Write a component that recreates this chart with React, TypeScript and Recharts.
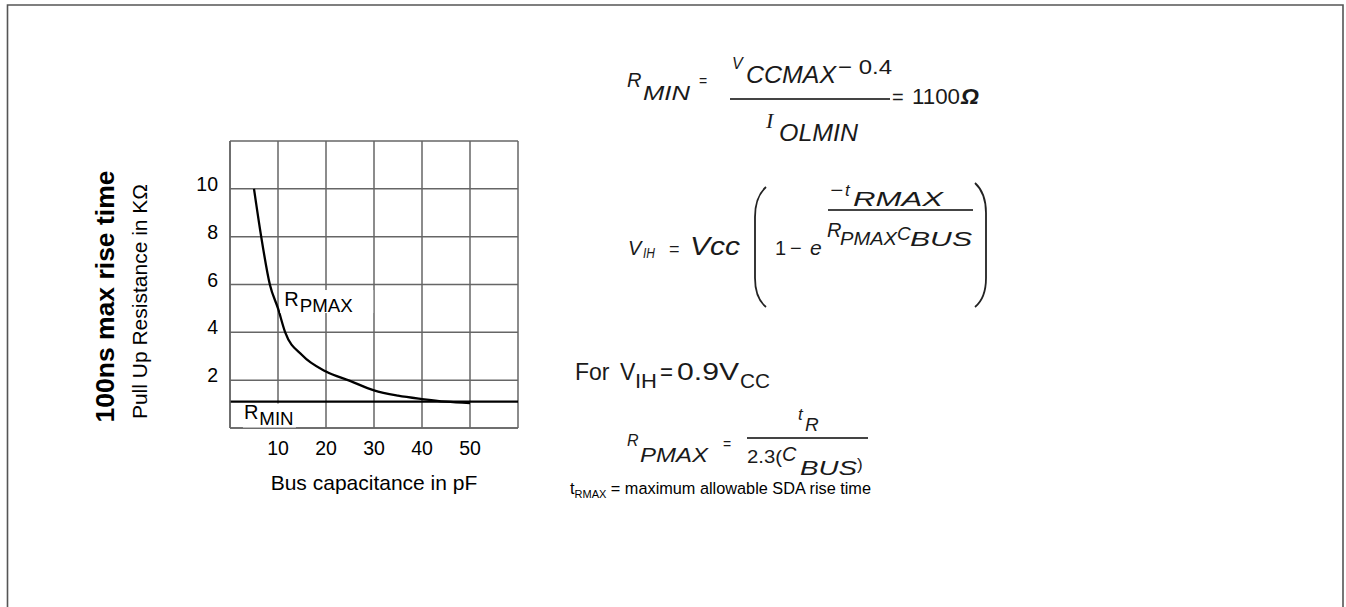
import React from 'react';
import {
  CartesianGrid,
  Line,
  LineChart,
  ReferenceDot,
  ReferenceLine,
  XAxis,
  YAxis,
} from 'recharts';

// bus capacitance (pF) vs max pull-up resistance (kOhm)
const capacitance = [5, 6.5, 8.3, 10, 11.5, 15, 20, 25, 30, 35, 40, 45, 50];
const resistance = [10, 8, 6, 5.0, 4, 3.05, 2.36, 1.97, 1.57, 1.35, 1.21, 1.1, 1.04];
const xTicks = [0, 10, 20, 30, 40, 50, 60];
const yTicks = [0, 2, 4, 6, 8, 10, 12];
const rMin = 1.1;

const data = capacitance.map((c, i) => ({ c, r: resistance[i] }));

const SANS = '"Liberation Sans", Arial, Helvetica, sans-serif';
const SERIF = '"Liberation Serif", "Times New Roman", serif';
const INK = '#000';
const GRID = '#666';

const XTick = ({ x, y, payload }: any) => {
  const v = payload.value;
  if (v === 0 || v === 60) return <g />;
  return (
    <text x={x} y={y + 27} textAnchor="middle" fontSize={19.5} fontFamily={SANS} fill={INK}>
      {v}
    </text>
  );
};

const YTick = ({ x, y, payload }: any) => {
  const v = payload.value;
  if (v === 0 || v === 12) return <g />;
  return (
    <text x={x - 12} y={y + 2} textAnchor="end" fontSize={19.5} fontFamily={SANS} fill={INK}>
      {v}
    </text>
  );
};

const XTitle = ({ viewBox }: any) => (
  <text
    x={viewBox.x + viewBox.width / 2}
    y={viewBox.y + 62}
    textAnchor="middle"
    fontSize={21}
    fontFamily={SANS}
    fill={INK}
  >
    Bus capacitance in pF
  </text>
);

const YTitle = ({ viewBox }: any) => {
  const cy = viewBox.y + viewBox.height / 2;
  const bx = viewBox.x - 56;
  const rx = viewBox.x - 23;
  return (
    <g>
      <text
        x={bx}
        y={cy + 12}
        transform={`rotate(-90 ${bx} ${cy + 12})`}
        textAnchor="middle"
        fontSize={26.5}
        fontWeight="bold"
        fontFamily={SANS}
        fill={INK}
      >
        100ns max rise time
      </text>
      <text
        x={rx}
        y={cy + 17}
        transform={`rotate(-90 ${rx} ${cy + 17})`}
        textAnchor="middle"
        fontSize={21}
        fontFamily={SANS}
        fill={INK}
      >
        Pull Up Resistance in KΩ
      </text>
    </g>
  );
};

const BoxedLabel = (main: string, sub: string, width: number, top: number, bottom: number, left: number) =>
  (p: any) => (
    <g>
      <rect x={p.cx - left} y={p.cy - top} width={width} height={top + bottom} fill="#fff" />
      <text x={p.cx} y={p.cy} fontSize={20} fontFamily={SANS} fill={INK}>
        {main}
        <tspan fontSize={18.7} dy={5.7} dx={1}>{sub}</tspan>
      </text>
    </g>
  );

// one run of formula text; w stretches it to the width seen in the scan
const T = ({ x, y, s, w, it = true, b = false, serif = false, children }: any) => (
  <text
    x={x}
    y={y}
    fontSize={s}
    fontFamily={serif ? SERIF : SANS}
    fontStyle={it ? 'italic' : 'normal'}
    fontWeight={b ? 'bold' : 'normal'}
    fill="#1a1a1a"
    textLength={w}
    lengthAdjust={w ? 'spacingAndGlyphs' : undefined}
  >
    {children}
  </text>
);

const Bar = ({ x1, x2, y }: any) => (
  <line x1={x1} x2={x2} y1={y} y2={y} stroke="#444" strokeWidth={2} />
);

function Formulas() {
  return (
    <svg
      width={1346}
      height={607}
      style={{ position: 'absolute', left: 0, top: 0, pointerEvents: 'none' }}
    >
      {/* frame */}
      <path d="M7.5 620 V5 H1343 V620" fill="none" stroke="#555" strokeWidth={1.6} />

      {/* R_MIN = (VCCMAX - 0.4) / IOLMIN = 1100 ohm */}
      <T x={627} y={87} s={20}>R</T>
      <T x={643} y={100} s={20} w={47}>MIN</T>
      <T x={699} y={86} s={14} it={false}>=</T>
      <T x={732} y={69} s={16}>V</T>
      <T x={746} y={83} s={24} w={90}>CCMAX</T>
      <T x={838} y={74} s={21} w={54} it={false}>− 0.4</T>
      <Bar x1={730} x2={890} y={99} />
      <T x={892} y={104} s={20} it={false}>=</T>
      <T x={912} y={104} s={22} w={48} it={false}>1100</T>
      <T x={961} y={104} s={23} b>Ω</T>
      <T x={766} y={128} s={22} serif>I</T>
      <T x={779} y={141} s={23} w={79}>OLMIN</T>

      {/* V_IH = Vcc (1 - e^(-tRMAX / RPMAX CBUS)) */}
      <T x={628} y={255} s={20}>V</T>
      <T x={643} y={258} s={14} w={12}>IH</T>
      <T x={669} y={255} s={18} it={false}>=</T>
      <T x={690} y={255} s={25} w={50}>Vcc</T>
      <path d="M766 187 Q755 197 755 217 L755 278 Q755 298 766 307" fill="none" stroke="#222" strokeWidth={1.8} />
      <T x={775} y={255} s={20} it={false}>1</T>
      <T x={790} y={255} s={20} it={false}>−</T>
      <T x={810} y={255} s={21}>e</T>
      <T x={830} y={196} s={17} w={13}>−</T>
      <T x={845} y={196} s={17}>t</T>
      <T x={853} y={206} s={21} w={90}>RMAX</T>
      <Bar x1={828} x2={973} y={210} />
      <T x={827} y={237} s={20}>R</T>
      <T x={840} y={245} s={19} w={57}>PMAX</T>
      <T x={897} y={240} s={19}>C</T>
      <T x={910} y={246} s={21} w={62}>BUS</T>
      <path d="M975 183 Q986 193 986 213 L986 278 Q986 298 975 307" fill="none" stroke="#222" strokeWidth={1.8} />

      {/* For V_IH = 0.9 V_CC */}
      <T x={575} y={380} s={23} it={false}>For</T>
      <T x={620} y={380} s={23} it={false}>V</T>
      <T x={635} y={388} s={21} w={22} it={false}>IH</T>
      <T x={660} y={380} s={23} w={13} it={false}>=</T>
      <T x={677} y={380} s={24} w={62} it={false}>0.9V</T>
      <T x={740} y={388} s={21} w={30} it={false}>CC</T>

      {/* R_PMAX = tR / 2.3(CBUS) */}
      <T x={627} y={446} s={16}>R</T>
      <T x={640} y={462} s={21} w={68}>PMAX</T>
      <T x={723} y={449} s={14} it={false}>=</T>
      <T x={798} y={420} s={17}>t</T>
      <T x={805} y={431} s={19}>R</T>
      <Bar x1={747} x2={868} y={438} />
      <T x={747} y={463} s={18} w={35} it={false}>2.3(</T>
      <T x={782} y={461} s={20}>C</T>
      <T x={800} y={475} s={21} w={57}>BUS</T>
      <T x={857} y={470} s={17} it={false}>)</T>

      {/* note */}
      <text x={570} y={494} fontSize={16.3} fontFamily={SANS} fill={INK}>
        t<tspan fontSize={11} dy={4}>RMAX</tspan>
        <tspan dy={-4}> = maximum allowable SDA rise time</tspan>
      </text>
    </svg>
  );
}

export default function App() {
  return (
    <div style={{ position: 'absolute', left: 0, top: 0, width: 1346, height: 607, background: '#fff' }}>
      <LineChart
        width={1346}
        height={607}
        data={data}
        margin={{ top: 141, right: 828, bottom: 139, left: 170 }}
      >
        <CartesianGrid stroke={GRID} strokeWidth={1.5} />
        <XAxis
          dataKey="c"
          type="number"
          domain={[0, 60]}
          ticks={xTicks}
          height={40}
          tickLine={false}
          tickSize={0}
          tickMargin={0}
          axisLine={{ stroke: GRID, strokeWidth: 1.5 }}
          tick={<XTick />}
          label={<XTitle />}
        />
        <YAxis
          type="number"
          domain={[0, 12]}
          ticks={yTicks}
          width={60}
          tickLine={false}
          tickSize={0}
          tickMargin={0}
          axisLine={{ stroke: GRID, strokeWidth: 1.5 }}
          tick={<YTick />}
          label={<YTitle />}
        />
        <ReferenceLine y={rMin} stroke={INK} strokeWidth={2.2} />
        <ReferenceDot
          x={2.9}
          y={0.375}
          r={0}
          shape={BoxedLabel('R', 'MIN', 53, 15.5, 8.5, 1)}
        />
        <ReferenceDot
          x={11.3}
          y={5.1}
          r={0}
          shape={BoxedLabel('R', 'PMAX', 93, 16, 7, 4)}
        />
        <Line
          type="monotone"
          dataKey="r"
          stroke={INK}
          strokeWidth={2.3}
          dot={false}
          isAnimationActive={false}
        />
      </LineChart>
      <Formulas />
    </div>
  );
}
